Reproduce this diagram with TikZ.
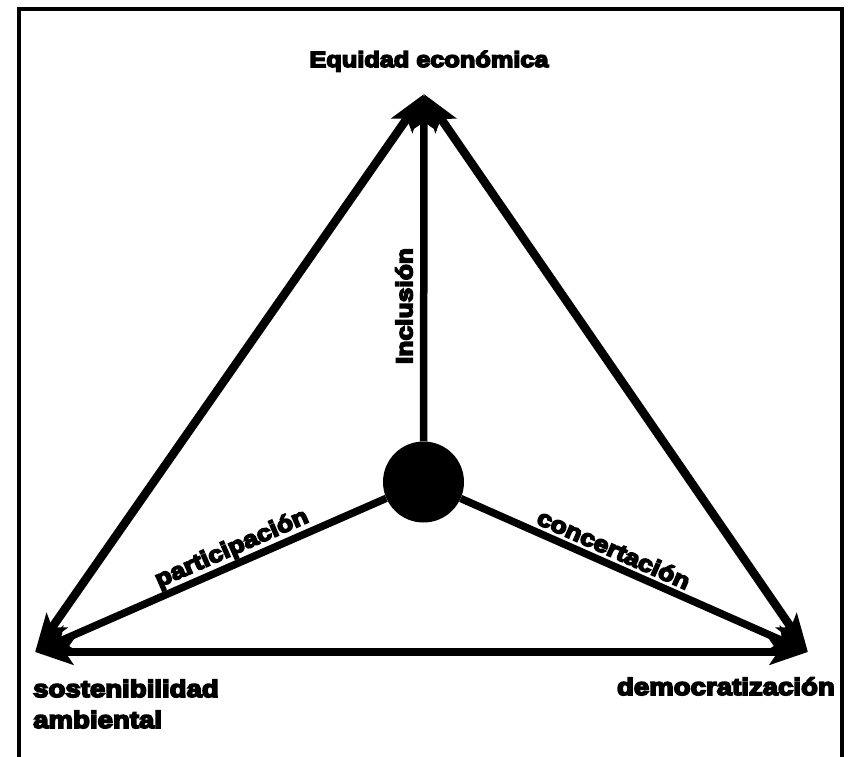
\documentclass[tikz,border=0pt]{standalone}
\usepackage{fontspec}
\usetikzlibrary{arrows.meta}
\newfontfamily\heavy{Liberation Sans}[BoldFeatures={FakeBold=7,FakeStretch=1.15}]
\begin{document}
\begin{tikzpicture}[x=1pt,y=-1pt,
  side/.style={line width=8.5pt,{Stealth[length=38pt,width=25pt,inset=8pt]}-{Stealth[length=38pt,width=25pt,inset=8pt]}},
  spoke/.style={line width=7.5pt,-{Stealth[length=36pt,width=25pt,inset=8pt]}},
  lbl/.style={font=\heavy\bfseries\fontsize{24}{30}\selectfont, inner sep=0pt},
  rlbl/.style={font=\heavy\bfseries\fontsize{22}{26}\selectfont, inner sep=0pt},
  slbl/.style={font=\heavy\bfseries\fontsize{23}{27}\selectfont, inner sep=0pt}]
\useasboundingbox (0,0) rectangle (848,756);
\draw[line width=4pt] (19,770) -- (19,8.5) -- (841.5,8.5) -- (841.5,770);
\coordinate (T) at (424,94);
\coordinate (L) at (35,652);
\coordinate (R) at (808,652);
\node[circle,fill=black,minimum size=81pt,inner sep=0pt] (C) at (423.5,482) {};
\draw[side] (L) -- (T);
\draw[side] (T) -- (R);
\draw[side] (L) -- (R);
\draw[spoke] (C) -- (T);
\draw[spoke] (C) -- (L);
\draw[spoke] (C) -- (R);
\node[rlbl, anchor=base] (eq) at (429,67) {Equidad económica};
\node[lbl, anchor=base west] (sost) at (33,697) {sostenibilidad};
\node[lbl, anchor=base west] (amb) at (33,728) {ambiental};
\node[lbl, anchor=base east] (dem) at (835,695) {democratización};
\node[slbl, rotate=90] (inc) at (404,306) {Inclusión};
\node[slbl, rotate=23.6] (part) at (232,549) {participación};
\node[slbl, rotate=-23.9] (conc) at (614,549) {concertación};
\end{tikzpicture}
\end{document}
